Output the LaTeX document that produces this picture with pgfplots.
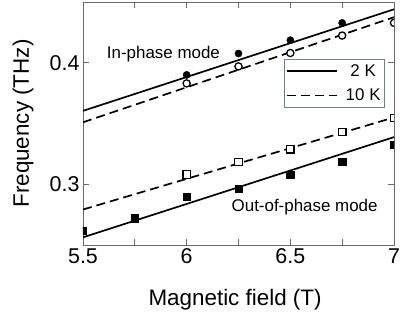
\documentclass[border=0pt]{standalone}
\usepackage{fontspec}
\setmainfont{Liberation Sans}
\usepackage{pgfplots}
\pgfplotsset{compat=1.18}
\definecolor{axgray}{RGB}{105,105,105}
\definecolor{leggray}{RGB}{110,125,150}

\begin{document}
\begin{tikzpicture}
\path[use as bounding box] (-83bp,-79bp) rectangle (332bp,245bp);
\begin{axis}[scale only axis,width=311bp,height=243bp,
xmin=5.5,xmax=7,ymin=0.25,ymax=0.45,
xtick={5.5,6,6.5,7},minor xtick={5.75,6.25,6.75},
ytick={0.3,0.4},
xticklabels={5.5,6,6.5,7},yticklabels={0.3,0.4},
tick align=inside,major tick length=6bp,minor tick length=6bp,
axis line style={axgray,line width=0.9bp},
every tick/.style={axgray,line width=0.9bp},
ticklabel style={font=\fontsize{21.5}{24}\selectfont},
/pgf/number format/assume math mode=true,
xlabel={Magnetic field (T)},ylabel={Frequency (THz)},
label style={font=\fontsize{22.5}{26}\selectfont},
xlabel style={at={(axis description cs:0.489,-0.226)},anchor=center},
ylabel style={at={(axis description cs:-0.193,0.5)},anchor=center,rotate=0},
clip marker paths=true,
legend style={at={(axis description cs:0.971,0.765)},anchor=north east,
  draw=leggray,line width=0.8bp,font=\fontsize{17}{20}\selectfont,
  row sep=7bp,inner xsep=2bp,inner ysep=3bp,
  /tikz/column 1/.style={column sep=6bp}},
legend cell align=center,
legend image code/.code={\draw[#1] (0bp,0bp) -- (50bp,0bp);},
]
\addlegendimage{black,line width=1.7bp}
\addlegendentry{2 K}
\addlegendimage{black,line width=1.7bp,dash pattern=on 9bp off 5bp}
\addlegendentry{10 K}
% fitted lines
\addplot[black,line width=1.7bp,forget plot] coordinates {(5.5,0.3604)(7,0.4440)};
\addplot[black,line width=1.7bp,dash pattern=on 9bp off 5bp,forget plot] coordinates {(5.5,0.3510)(7,0.4375)};
\addplot[black,line width=1.7bp,forget plot] coordinates {(5.5,0.2563)(7,0.3388)};
\addplot[black,line width=1.7bp,dash pattern=on 9bp off 5bp,forget plot] coordinates {(5.5,0.2792)(7,0.3550)};
% in-phase mode, 2 K
\addplot[only marks,mark=*,mark size=3.6bp,mark options={fill=black,draw=black},forget plot]
coordinates {(6,0.390)(6.25,0.4076)(6.5,0.4186)(6.75,0.4328)};
% in-phase mode, 10 K
\addplot[only marks,mark=*,mark size=3.6bp,mark options={fill=white,draw=black,line width=1.3bp},forget plot]
coordinates {(6,0.383)(6.25,0.397)(6.5,0.408)(6.75,0.4224)(7,0.4328)};
% out-of-phase mode, 2 K
\addplot[only marks,mark=square*,mark size=3.7bp,mark options={fill=black,draw=black},forget plot]
coordinates {(5.5,0.2617)(5.75,0.2719)(6,0.2896)(6.25,0.2962)(6.5,0.308)(6.75,0.3186)(7,0.3325)};
% out-of-phase mode, 10 K
\addplot[only marks,mark=square*,mark size=3.7bp,mark options={fill=white,draw=black,line width=1.3bp},forget plot]
coordinates {(6,0.308)(6.25,0.3183)(6.5,0.3287)(6.75,0.3429)(7,0.3545)};
\node[font=\fontsize{17}{20}\selectfont] at (axis cs:5.888,0.407) {In-phase mode};
\node[font=\fontsize{17}{20}\selectfont] at (axis cs:6.569,0.2809) {Out-of-phase mode};
\end{axis}
\end{tikzpicture}
\end{document}
